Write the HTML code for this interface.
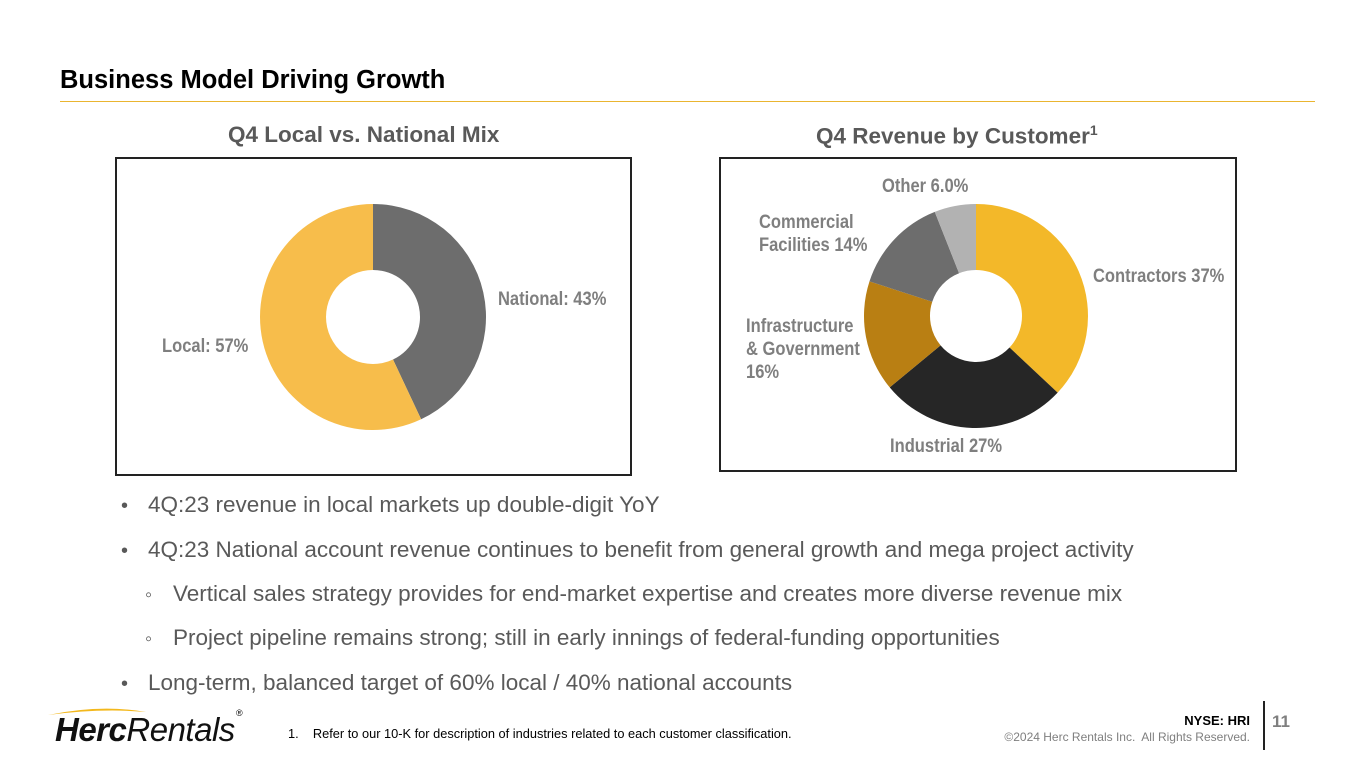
<!DOCTYPE html>
<html><head><meta charset="utf-8">
<style>
body{margin:0;width:1365px;height:769px;background:#fff;position:relative;overflow:hidden;font-family:"Liberation Sans",sans-serif;}
.a{position:absolute;white-space:nowrap;}
.lbl{position:absolute;font-family:"Liberation Sans Narrow","Liberation Sans",sans-serif;font-weight:bold;font-size:19px;color:#7f7f7f;line-height:23px;transform:scaleX(0.87);transform-origin:0 0;white-space:nowrap;}
.bul{position:absolute;font-size:22.5px;color:#595959;}
.dot{position:absolute;font-size:20px;color:#595959;}
</style></head><body>
<div class="a" style="left:60px;top:66px;font-size:25.5px;font-weight:bold;color:#000;">Business Model Driving Growth</div>
<div class="a" style="left:60px;top:101px;width:1255px;height:1px;background:#eab530;"></div>
<div class="a" style="left:228px;top:122px;font-size:22.5px;font-weight:bold;color:#595959;">Q4 Local vs. National Mix</div>
<div class="a" style="left:816px;top:122px;font-size:22.5px;font-weight:bold;color:#595959;">Q4 Revenue by Customer<sup style="font-size:14px;">1</sup></div>
<div class="a" style="left:115px;top:157px;width:513px;height:315px;border:2px solid #222;"></div>
<div class="a" style="left:719px;top:157px;width:514px;height:311px;border:2px solid #222;"></div>
<svg class="a" style="left:0;top:0" width="1365" height="769">
<g id="d1"></g><g id="d2"></g></svg>
<div class="lbl" style="left:498px;top:288px;">National: 43%</div>
<div class="lbl" style="left:162px;top:335px;">Local: 57%</div>
<div class="lbl" style="left:882px;top:175px;">Other 6.0%</div>
<div class="lbl" style="left:759px;top:211px;">Commercial<br>Facilities 14%</div>
<div class="lbl" style="left:1093px;top:265px;">Contractors 37%</div>
<div class="lbl" style="left:746px;top:315px;">Infrastructure<br>&amp; Government<br>16%</div>
<div class="lbl" style="left:890px;top:435px;">Industrial 27%</div>
<div class="dot" style="left:121px;top:495px;">•</div>
<div class="bul a" style="left:148px;top:492px;">4Q:23 revenue in local markets up double-digit YoY</div>
<div class="dot" style="left:121px;top:540px;">•</div>
<div class="bul a" style="left:148px;top:537px;">4Q:23 National account revenue continues to benefit from general growth and mega project activity</div>
<div class="dot" style="left:145px;top:584px;">◦</div>
<div class="bul a" style="left:173px;top:581px;">Vertical sales strategy provides for end-market expertise and creates more diverse revenue mix</div>
<div class="dot" style="left:145px;top:628px;">◦</div>
<div class="bul a" style="left:173px;top:625px;">Project pipeline remains strong; still in early innings of federal-funding opportunities</div>
<div class="dot" style="left:121px;top:673px;">•</div>
<div class="bul a" style="left:148px;top:670px;">Long-term, balanced target of 60% local / 40% national accounts</div>
<div class="a" style="left:46px;top:706px;height:44px;width:210px;">
<svg class="a" style="left:0;top:0" width="210" height="14"><path d="M2 9 Q55 -2 100 6 Q55 2 2 9Z" fill="#f3b81c"/></svg>
<span class="a" style="left:9px;top:5px;font-size:33px;font-style:italic;color:#111;letter-spacing:-0.5px;"><b>Herc</b>Rentals</span>
<span class="a" style="left:190px;top:2px;font-size:9px;">®</span></div>
<div class="a" style="left:288px;top:726px;font-size:12.8px;color:#000;">1.&nbsp;&nbsp;&nbsp;&nbsp;Refer to our 10-K for description of industries related to each customer classification.</div>
<div class="a" style="right:115px;top:713px;font-size:13px;font-weight:bold;color:#000;">NYSE: HRI</div>
<div class="a" style="right:115px;top:730px;font-size:12px;color:#7f7f7f;">©2024 Herc Rentals Inc.&nbsp; All Rights Reserved.</div>
<div class="a" style="left:1263px;top:701px;width:2px;height:49px;background:#222;"></div>
<div class="a" style="left:1272px;top:712px;font-size:17px;font-weight:bold;color:#7f7f7f;">11</div>
<script>
const mixCategories=["National","Local"];
const mixValues=[43,57];
const mixColors=["#6d6d6d","#f7bd4b"];
const custCategories=["Contractors","Industrial","Infrastructure & Government","Commercial Facilities","Other"];
const custValues=[37,27,16,14,6];
const custColors=["#f3b829","#262626","#b97f13","#6d6d6d","#b2b2b2"];
function donut(gid,cats,vals,cols,cx,cy,ro,ri){
  const g=document.getElementById(gid);
  const tot=vals.reduce((a,b)=>a+b,0);
  let a0=-Math.PI/2;
  vals.forEach((v,i)=>{
    const a1=a0+v/tot*2*Math.PI;
    const lg=(a1-a0)>Math.PI?1:0;
    const p=(r,a)=>(cx+r*Math.cos(a)).toFixed(2)+" "+(cy+r*Math.sin(a)).toFixed(2);
    const el=document.createElementNS("http://www.w3.org/2000/svg","path");
    el.setAttribute("d","M"+p(ro,a0)+" A"+ro+" "+ro+" 0 "+lg+" 1 "+p(ro,a1)+" L"+p(ri,a1)+" A"+ri+" "+ri+" 0 "+lg+" 0 "+p(ri,a0)+"Z");
    el.setAttribute("fill",cols[i]);
    
    
    g.appendChild(el);
    a0=a1;
  });
}
donut("d1",mixCategories,mixValues,mixColors,373,317,113,47);
donut("d2",custCategories,custValues,custColors,976,316,112,46);
</script>
</body></html>
